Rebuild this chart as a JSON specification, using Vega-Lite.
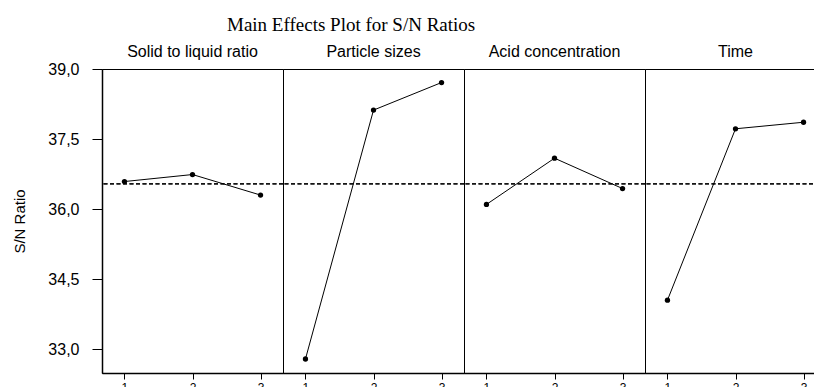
{
  "$schema": "https://vega.github.io/schema/vega-lite/v6.json",
  "padding": {"left": 12, "top": 16, "right": 0, "bottom": 0},
  "background": "white",
  "title": {"text": "Main Effects Plot for S/N Ratios", "font": "Liberation Serif", "fontSize": 19, "fontWeight": "normal", "anchor": "start", "frame": "group", "dx": 125, "color": "black", "offset": 9},
  "data": {"values": [
    {"factor": "Solid to liquid ratio", "level": "1", "sn": 36.59},
    {"factor": "Solid to liquid ratio", "level": "2", "sn": 36.74},
    {"factor": "Solid to liquid ratio", "level": "3", "sn": 36.30},
    {"factor": "Particle sizes", "level": "1", "sn": 32.79},
    {"factor": "Particle sizes", "level": "2", "sn": 38.12},
    {"factor": "Particle sizes", "level": "3", "sn": 38.71},
    {"factor": "Acid concentration", "level": "1", "sn": 36.10},
    {"factor": "Acid concentration", "level": "2", "sn": 37.09},
    {"factor": "Acid concentration", "level": "3", "sn": 36.44},
    {"factor": "Time", "level": "1", "sn": 34.05},
    {"factor": "Time", "level": "2", "sn": 37.72},
    {"factor": "Time", "level": "3", "sn": 37.86}
  ]},
  "facet": {
    "column": {
      "field": "factor", "type": "nominal",
      "sort": ["Solid to liquid ratio", "Particle sizes", "Acid concentration", "Time"],
      "header": {"title": null, "labelFont": "Liberation Sans", "labelFontSize": 16, "labelColor": "black", "labelPadding": 9}
    }
  },
  "spacing": 0,
  "bounds": "flush",
  "spec": {
    "width": 181,
    "height": 304,
    "layer": [
      {
        "mark": {"type": "rule", "strokeDash": [4, 2.5], "color": "black", "strokeWidth": 0.9},
        "encoding": {
          "y": {"datum": 36.54, "type": "quantitative",
                "scale": {"domain": [32.49, 39.0], "nice": false, "zero": false},
                "axis": {"title": "S/N Ratio", "values": [33, 34.5, 36, 37.5, 39], "labelExpr": "replace(format(datum.value, '.1f'), '.', ',')", "tickSize": 10, "labelPadding": 13, "titlePadding": 20, "labelFontSize": 16, "titleFontSize": 15}}
        }
      },
      {
        "mark": {"type": "line", "color": "black", "strokeWidth": 1, "point": {"filled": true, "color": "black", "size": 28, "opacity": 1}},
        "encoding": {
          "x": {"field": "level", "type": "ordinal", "scale": {"type": "point", "padding": 0.33}, "axis": {"title": null, "labelAngle": 0}},
          "y": {"field": "sn", "type": "quantitative",
                "scale": {"domain": [32.49, 39.0], "nice": false, "zero": false},
                "axis": {"title": "S/N Ratio", "values": [33, 34.5, 36, 37.5, 39], "labelExpr": "replace(format(datum.value, '.1f'), '.', ',')", "tickSize": 10, "labelPadding": 13, "titlePadding": 20, "labelFontSize": 16, "titleFontSize": 15}}
        }
      }
    ]
  },
  "config": {
    "view": {"stroke": "black", "strokeWidth": 1},
    "axis": {"domainColor": "black", "tickColor": "black", "labelColor": "black", "titleColor": "black", "grid": false, "labelFont": "Liberation Sans", "titleFont": "Liberation Sans"},
    "axisY": {"titleFontWeight": "normal", "domainWidth": 1.5},
    "axisX": {"tickSize": 6, "labelFontSize": 12, "labelPadding": 3, "domainWidth": 1.5}
  }
}
